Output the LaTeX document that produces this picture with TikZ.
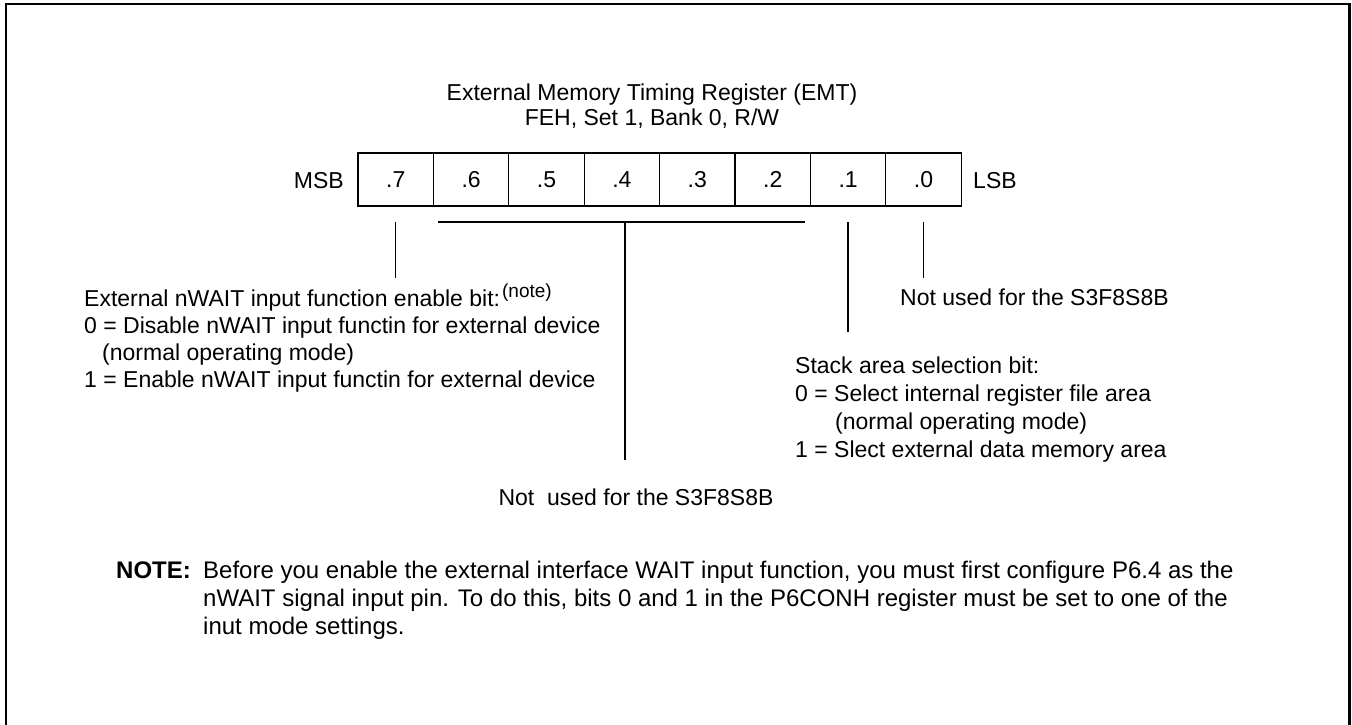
\documentclass[tikz,border=0pt]{standalone}
\usepackage{fontspec}
\setmainfont{Liberation Sans}

\begin{document}
\begin{tikzpicture}[x=1pt, y=-1pt,
    every node/.style={font=\fontsize{23}{27}\selectfont, inner sep=0pt},
    cell/.style={draw, line width=1.3pt, minimum width=75.4pt, minimum height=53pt},
    txt/.style={anchor=base west},
    notetxt/.style={anchor=base west, font=\fontsize{24}{28}\selectfont}]
    \useasboundingbox (0,0) rectangle (1352,725);

    % frame, open at the bottom
    \draw[line width=2.2pt] (6,725) -- (6,4) -- (1349.5,4) -- (1349.5,725);

    % title
    \node[anchor=base] (title1) at (652,100) {External Memory Timing Register (EMT)};
    \node[anchor=base] (title2) at (652,125) {FEH, Set 1, Bank 0, R/W};

    % register bits
    \node[cell] (b7) at (395.7,179.5) {.7};
    \node[cell] (b6) at (471.1,179.5) {.6};
    \node[cell] (b5) at (546.5,179.5) {.5};
    \node[cell] (b4) at (621.9,179.5) {.4};
    \node[cell] (b3) at (697.3,179.5) {.3};
    \node[cell] (b2) at (772.7,179.5) {.2};
    \node[cell] (b1) at (848.1,179.5) {.1};
    \node[cell] (b0) at (923.5,179.5) {.0};
    \node[anchor=base east] (msb) at (344,188) {MSB};
    \node[anchor=base west] (lsb) at (973,188) {LSB};

    % line ends
    \coordinate (t7) at (395.7,222);
    \coordinate (e7) at (395.7,278);
    \coordinate (busl) at (438,222);
    \coordinate (busr) at (805,222);
    \coordinate (busm) at (625,222);
    \coordinate (busd) at (625,460);
    \coordinate (t1) at (848.1,222);
    \coordinate (e1) at (848.1,332);
    \coordinate (t0) at (923.5,222);
    \coordinate (e0) at (923.5,278);

    % lines
    \draw[line width=1.5pt] (t7) -- (e7);
    \draw[line width=1.8pt] (busl) -- (busr);
    \draw[line width=1.5pt] (busm) -- (busd);
    \draw[line width=1.5pt] (t1) -- (e1);
    \draw[line width=1.5pt] (t0) -- (e0);

    % bit 7
    \node[txt] (wait1) at (84,306) {External nWAIT input function enable bit:\kern2pt\raisebox{9pt}{\fontsize{19}{19}\selectfont (note)}};
    \node[txt] (wait2) at (84,333) {0 = Disable nWAIT input functin for external device};
    \node[txt] (wait3) at (102,360) {(normal operating mode)};
    \node[txt] (wait4) at (84,387) {1 = Enable nWAIT input functin for external device};

    % bits 6 to 2
    \node[anchor=base] (unused1) at (636,505) {Not\ \ used for the S3F8S8B};

    % bit 1
    \node[txt] (stack1) at (795,373) {Stack area selection bit:};
    \node[txt] (stack2) at (795,401) {0 = Select internal register file area};
    \node[txt] (stack3) at (835,429) {(normal operating mode)};
    \node[txt] (stack4) at (795,457) {1 = Slect external data memory area};

    % bit 0
    \node[txt] (unused0) at (900,305) {Not used for the S3F8S8B};

    % note
    \node[notetxt] (note) at (116,578) {\bfseries NOTE:};
    \node[notetxt] (note1) at (203,578) {Before you enable the external interface WAIT input function, you must first configure P6.4 as the};
    \node[notetxt] (note2) at (203,606) {nWAIT signal input pin. To do this, bits 0 and 1 in the P6CONH register must be set to one of the};
    \node[notetxt] (note3) at (203,634) {inut mode settings.};
\end{tikzpicture}
\end{document}
